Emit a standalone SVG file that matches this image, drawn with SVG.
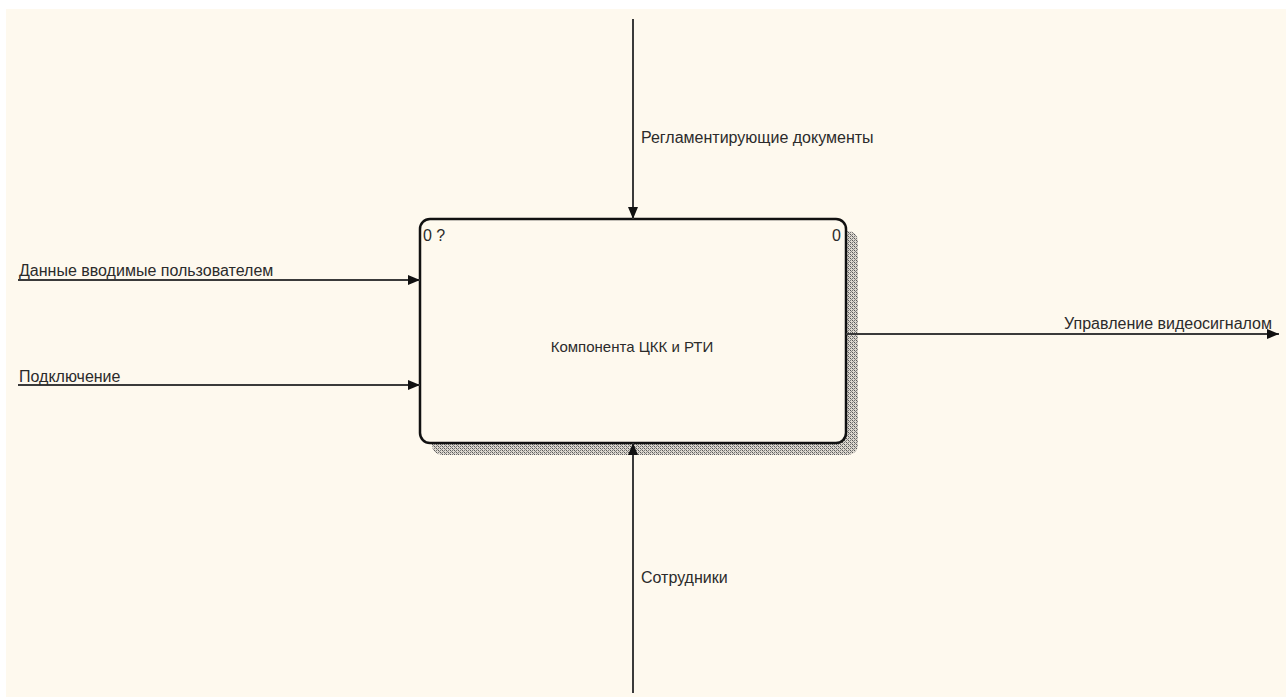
<svg xmlns="http://www.w3.org/2000/svg" width="1286" height="697" viewBox="0 0 1286 697">
<style>
.t{font-family:"Liberation Sans",Arial,sans-serif;font-size:16px;fill:#2b2b2b}
.c{stroke:#3a3a3a;stroke-width:2;fill:none}
</style>
<defs>
<pattern id="hatch" width="4" height="4" patternUnits="userSpaceOnUse">
<rect width="4" height="4" fill="#ddd8cf"/>
<rect x="0" y="0" width="1" height="1" fill="#555"/>
<rect x="2" y="2" width="1" height="1" fill="#555"/>
<rect x="1" y="1" width="1" height="1" fill="#888"/>
<rect x="3" y="3" width="1" height="1" fill="#888"/>
<rect x="2" y="0" width="1" height="1" fill="#777"/>
<rect x="0" y="2" width="1" height="1" fill="#777"/>
</pattern>
<marker id="ah" viewBox="0 0 12 10" refX="12" refY="5" markerWidth="12" markerHeight="10" markerUnits="userSpaceOnUse" orient="auto">
<path d="M0,0 L12,5 L0,10 Z" fill="#111"/>
</marker>
</defs>
<rect width="1286" height="697" fill="#ffffff"/>
<rect x="6" y="9" width="1280" height="688" fill="#fef9ee"/>
<g id="node-main">
<rect x="432" y="231" width="426" height="224" rx="10" fill="url(#hatch)"/>
<rect x="420" y="219" width="426" height="224" rx="10" fill="#fef9ee" stroke="#111" stroke-width="2.5"/>
<text class="t" x="632" y="352" text-anchor="middle" style="font-size:15px">Компонента ЦКК и РТИ</text>
<text class="t" x="423" y="241">0 ?</text>
<text class="t" x="832" y="241">0</text>
</g>
<g id="connectors">
<line class="c" x1="633" y1="19" x2="633" y2="219" marker-end="url(#ah)"/>
<line class="c" x1="633" y1="693" x2="633" y2="443" marker-end="url(#ah)"/>
<line class="c" x1="18" y1="280" x2="420" y2="280" marker-end="url(#ah)"/>
<line class="c" x1="18" y1="385" x2="420" y2="385" marker-end="url(#ah)"/>
<line class="c" x1="846" y1="334" x2="1279" y2="334" marker-end="url(#ah)"/>
<text class="t" x="641" y="143">Регламентирующие документы</text>
<text class="t" x="641" y="583">Сотрудники</text>
<text class="t" x="19" y="276">Данные вводимые пользователем</text>
<text class="t" x="19" y="382">Подключение</text>
<text class="t" x="1272" y="329" text-anchor="end">Управление видеосигналом</text>
</g>
</svg>
